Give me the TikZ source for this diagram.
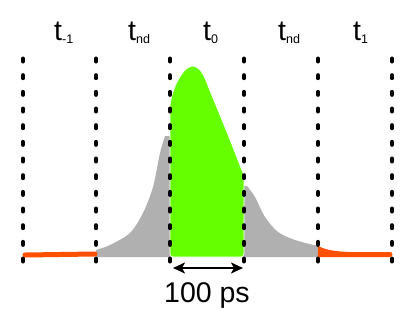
\documentclass[tikz,border=0pt]{standalone}
\usepackage{fontspec}
\setmainfont{Liberation Sans}
\usetikzlibrary{arrows.meta}
\definecolor{pgreen}{HTML}{66FF00}
\definecolor{pgray}{HTML}{B0B0B0}
\definecolor{porange}{HTML}{FF5000}
\tikzset{
  vline/.style={line width=4pt, line cap=round, dash pattern=on 3pt off 13.67pt},
  lbl/.style={anchor=base west, inner sep=0pt, font=\fontsize{28.5}{30}\selectfont},
  dimarrow/.style={line width=2.8pt, {Stealth[length=12pt,width=11pt,inset=3pt]}-{Stealth[length=12pt,width=11pt,inset=3pt]}},
}
\newcommand{\sbx}[1]{\raisebox{-3pt}{\fontsize{12.5}{13}\selectfont #1}}
\begin{document}
\begin{tikzpicture}[x=1pt,y=-1pt]
\useasboundingbox (0,0) rectangle (415,319);
% gray tails
\fill[pgray] (96,257) -- plot[smooth] coordinates {(96,250) (110,245) (130,233) (143,213) (153,187) (160,153) (165,136)} -- (172,136) -- (172,257) -- cycle;
\fill[pgray] (242,257) -- (242,186) -- plot[smooth] coordinates {(247,186) (255,197) (265,217) (278,232) (295,240) (318,246)} -- (318,257) -- cycle;
% green pulse
\path[fill=pgreen, draw=white, line width=0.8pt] (170,105) -- plot[smooth] coordinates {(170,105) (172,95) (176,84) (181,75) (186,69) (192,66) (198,68) (204,76) (213,98) (227,132) (240,165) (244,175)} [rounded corners=3pt] -- (244,257) -- (170,257) -- cycle;
% orange tails
\draw[porange, line width=5pt, line cap=round] (25,255) -- (95,254);
\fill[porange] (318,246) .. controls (326,250) and (335,251.5) .. (350,252) -- (390,252) -- (390,257) -- (318,257) -- cycle;
\draw[porange, line width=5pt, line cap=round] (320,254.5) -- (390,254.5);
% dotted separators
\foreach \x/\n in {23/a,96/b,170/c,244/d,318/e,392/f}{
  \coordinate (\n top) at (\x,58.5);
  \coordinate (\n bot) at (\x,261.5);
  \draw[vline] (\n top) -- (\n bot);
}
% labels
\node[lbl] (lm1) at (54,40) {t\sbx{-1}};
\node[lbl] (lnd1) at (128,40) {t\sbx{nd}};
\node[lbl] (l0) at (203,40) {t\sbx{0}};
\node[lbl] (lnd2) at (278,40) {t\sbx{nd}};
\node[lbl] (l1) at (353,40) {t\sbx{1}};
% dimension arrow
\coordinate (aL) at (173,268);
\coordinate (aR) at (243,268);
\draw[dimarrow] (aL) -- (aR);
\node[anchor=base, inner sep=0pt, font=\fontsize{28.5}{30}\selectfont] (ps) at (207,302) {100 ps};
\end{tikzpicture}
\end{document}
